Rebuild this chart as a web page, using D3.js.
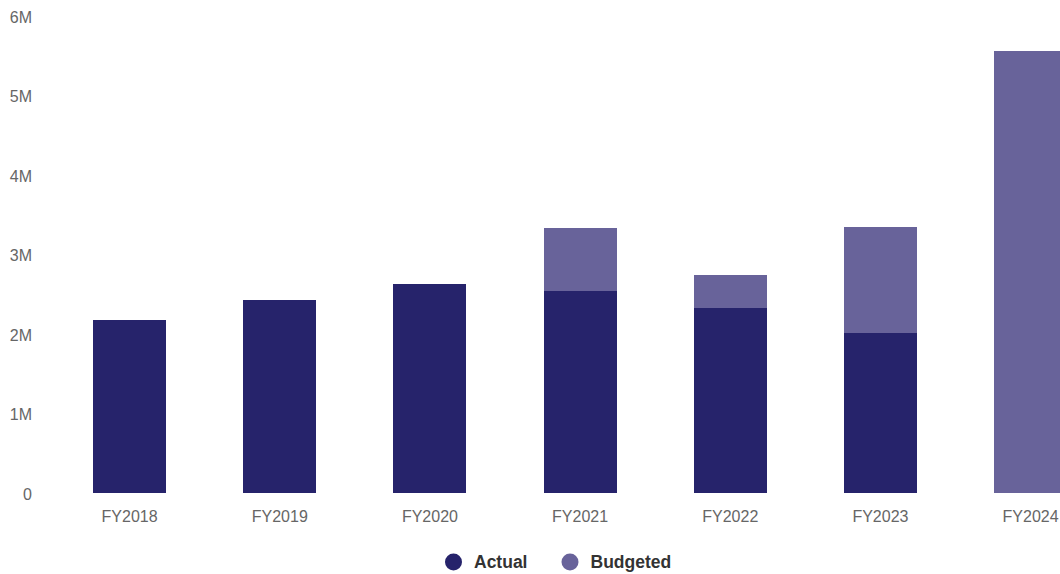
<!DOCTYPE html>
<html>
<head>
<meta charset="utf-8">
<script src="https://cdn.jsdelivr.net/npm/d3@7"></script>
<style>
  html, body { margin: 0; padding: 0; background: #fff; }
  svg { display: block; font-family: "Liberation Sans", Arial, Helvetica, sans-serif; }
</style>
</head>
<body>
<svg id="chart" width="1060" height="574"></svg>
<script>
// Fiscal years shown on the x axis
const categories = ["FY2018", "FY2019", "FY2020", "FY2021", "FY2022", "FY2023", "FY2024"];
// Actual spend per year (in dollars)
const actual = [2175000, 2430000, 2630000, 2540000, 2325000, 2015000, 0];
// Budgeted amount stacked on top of the actual spend
const budgeted = [0, 0, 0, 790000, 415000, 1330000, 5560000];
// Y axis ticks
const yTicks = [0, 1000000, 2000000, 3000000, 4000000, 5000000, 6000000];
const yTickLabels = ["0", "1M", "2M", "3M", "4M", "5M", "6M"];

const seriesNames = ["Actual", "Budgeted"];
const colors = { Actual: "#26236b", Budgeted: "#68639a" };

const svg = d3.select("#chart");

const rows = categories.map((c, i) => ({ category: c, Actual: actual[i], Budgeted: budgeted[i] }));
const stacked = d3.stack().keys(seriesNames)(rows);

const y = d3.scaleLinear().domain([0, 6000000]).range([493, 16]);
const step = 150.17;
const x = d3.scaleBand()
  .domain(categories)
  .range([54.5, 54.5 + step * categories.length])
  .paddingInner(0.513)
  .paddingOuter(0.2565);

// Bars
svg.append("defs").append("clipPath").attr("id", "plotclip")
  .append("rect").attr("x", 0).attr("y", 0).attr("width", 1060).attr("height", 574);

const barLayer = svg.append("g").attr("clip-path", "url(#plotclip)");
barLayer.selectAll("g.series")
  .data(stacked)
  .join("g")
  .attr("class", "series")
  .attr("fill", d => colors[d.key])
  .attr("shape-rendering", "crispEdges")
  .selectAll("rect")
  .data(d => d.map(v => ({ v, cat: v.data.category })))
  .join("rect")
  .attr("x", d => Math.round(x(d.cat)))
  .attr("width", Math.round(x.bandwidth()))
  .attr("y", d => Math.round(y(d.v[1])))
  .attr("height", d => Math.max(0, Math.round(y(d.v[0])) - Math.round(y(d.v[1]))));

// Y axis labels (no line, no ticks)
const yAxis = d3.axisLeft(y)
  .tickValues(yTicks)
  .tickFormat((d, i) => yTickLabels[i])
  .tickSize(0)
  .tickPadding(0);
const gy = svg.append("g").attr("transform", "translate(32,1)").call(yAxis);
gy.select(".domain").remove();
gy.selectAll("text")
  .attr("fill", "#666")
  .style("font-size", "16px")
  .style("font-family", "'Liberation Sans', Arial, sans-serif");

// X axis labels
const xAxis = d3.axisBottom(x).tickSize(0).tickPadding(0);
const gx = svg.append("g").attr("transform", "translate(0,511)").call(xAxis);
gx.select(".domain").remove();
gx.selectAll("text")
  .attr("fill", "#666")
  .attr("dy", "0.71em")
  .style("font-size", "16px")
  .style("font-family", "'Liberation Sans', Arial, sans-serif");

// Legend
const legendItems = [
  { name: "Actual", cx: 453.5, tx: 474 },
  { name: "Budgeted", cx: 570, tx: 590.5 }
];
const legend = svg.append("g");
legend.selectAll("circle")
  .data(legendItems)
  .join("circle")
  .attr("cx", d => d.cx)
  .attr("cy", 562)
  .attr("r", 8.5)
  .attr("fill", d => colors[d.name]);
legend.selectAll("text")
  .data(legendItems)
  .join("text")
  .attr("x", d => d.tx)
  .attr("y", 562)
  .attr("dy", "0.36em")
  .attr("fill", "#333")
  .style("font-size", "17.5px")
  .style("font-weight", "bold")
  .text(d => d.name);
</script>
</body>
</html>
